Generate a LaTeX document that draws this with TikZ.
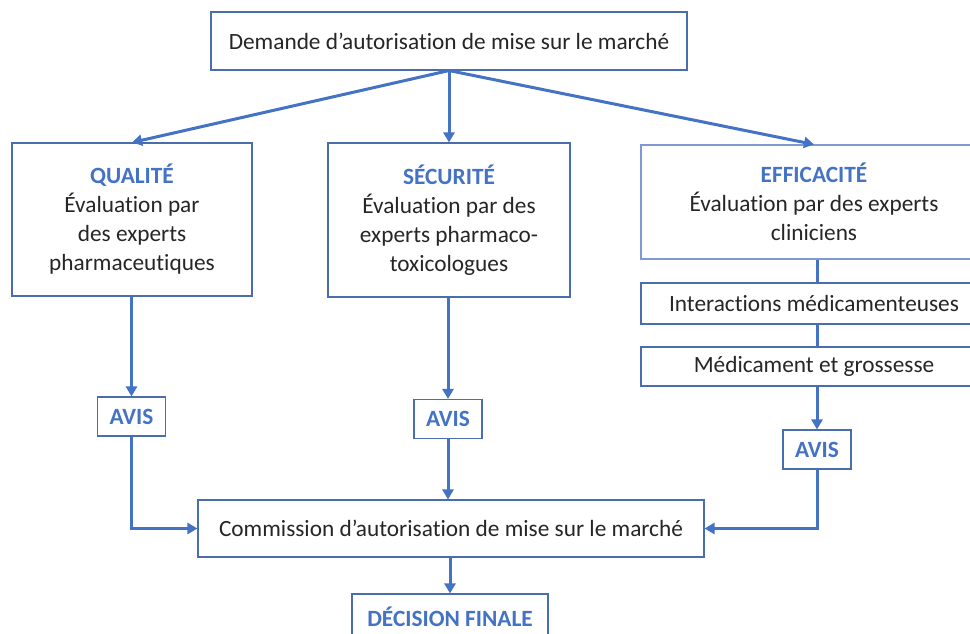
\documentclass[tikz,border=0pt]{standalone}
\usepackage{fontspec}
\setmainfont[Ligatures=NoCommon]{Carlito}
\usetikzlibrary{arrows.meta}
\definecolor{lineblue}{HTML}{4472C4}
\definecolor{boxedge}{HTML}{4A6DAE}
\definecolor{boxedgelight}{HTML}{7E9AD0}
\definecolor{txt}{HTML}{262626}
\begin{document}
\begin{tikzpicture}[x=1pt,y=-1pt,
  box/.style={draw=boxedge, line width=1.1pt, fill=white, inner sep=0pt,
    align=center, text=txt, font=\fontsize{23.3}{29}\selectfont},
  ttl/.style={text=lineblue, font=\fontsize{23.3}{29}\selectfont\bfseries},
  conn/.style={draw=lineblue, line width=3pt},
  arr/.style={conn, -{Triangle[length=10pt,width=11pt]}}]
\useasboundingbox (0,0) rectangle (970,634);
\clip (0,0) rectangle (970,634);
\fill[white] (0,0) rectangle (970,634);

\node[box, minimum width=476pt, minimum height=58pt] (dem) at (449,41)
  {Demande d’autorisation de mise sur le marché};

\node[box, minimum width=240pt, minimum height=153pt] (qual) at (132,219.5)
  {{\color{lineblue}\bfseries QUALITÉ}\\Évaluation par\\des experts\\pharmaceutiques};
\node[box, minimum width=242pt, minimum height=154pt] (sec) at (449,220)
  {{\color{lineblue}\bfseries SÉCURITÉ}\\Évaluation par des\\experts pharmaco-\\toxicologues};
\node[box, draw=boxedgelight, minimum width=346pt, minimum height=114pt] (eff) at (814,202)
  {{\color{lineblue}\bfseries EFFICACITÉ}\\Évaluation par des experts\\cliniciens};
\node[box, minimum width=346pt, minimum height=41pt] (inter) at (814,303.5)
  {Interactions médicamenteuses};
\node[box, minimum width=346pt, minimum height=39pt] (med) at (814,366.5)
  {Médicament et grossesse};

\node[box, minimum width=68pt, minimum height=39pt, ttl] (av1) at (131.5,416.5) {AVIS};
\node[box, minimum width=68pt, minimum height=39pt, ttl] (av2) at (448,419) {AVIS};
\node[box, minimum width=68pt, minimum height=39pt, ttl] (av3) at (817,449.5) {AVIS};

\node[box, minimum width=506pt, minimum height=57pt] (com) at (451,528.5)
  {Commission d’autorisation de mise sur le marché};
\node[box, minimum width=196pt, minimum height=46pt, ttl] (dec) at (450,617)
  {DÉCISION FINALE};

% connectors
\draw[arr] (dem.south) -- (qual.north);
\draw[arr] (dem.south) -- (dem.south |- sec.north);
\draw[arr] (dem.south) -- (eff.north);

\draw[arr] (av1 |- qual.south) -- (av1.north);
\draw[arr] (av2 |- sec.south) -- (av2.north);
\draw[conn] (av3 |- eff.south) -- (av3 |- inter.north);
\draw[conn] (av3 |- inter.south) -- (av3 |- med.north);
\draw[arr] (av3 |- med.south) -- (av3.north);

\draw[arr] (av1.south) |- (com.west);
\draw[arr] (av2.south) -- (av2 |- com.north);
\draw[arr] (av3.south) |- (com.east);

\draw[arr] (dec |- com.south) -- (dec.north);
\end{tikzpicture}
\end{document}
